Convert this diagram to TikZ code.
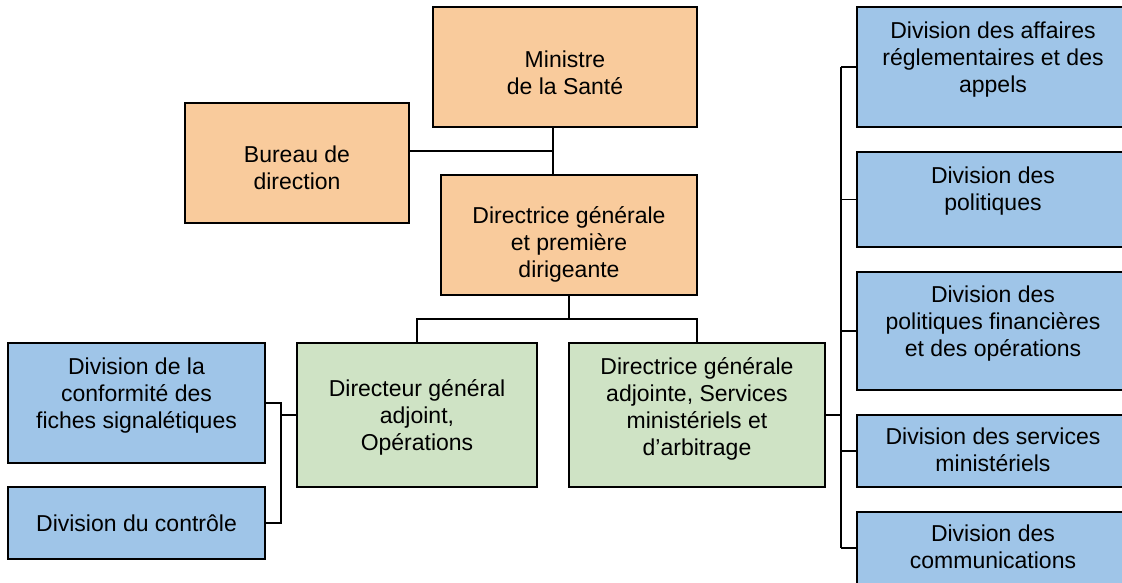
\documentclass[tikz,border=0pt]{standalone}
\usepackage{fontspec}
\setmainfont{Liberation Sans}
\definecolor{orangefill}{HTML}{F9CB9C}
\definecolor{bluefill}{HTML}{9FC5E8}
\definecolor{greenfill}{HTML}{CFE3C5}
\begin{document}
\begin{tikzpicture}[x=1pt,y=-1pt,
  box/.style={draw=black, line width=2pt, inner sep=0pt, outer sep=0pt},
  obox/.style={box, fill=orangefill},
  bbox/.style={box, fill=bluefill},
  gbox/.style={box, fill=greenfill},
  txt/.style={align=center, inner sep=0pt, font=\fontsize{23}{27}\selectfont},
  link/.style={line width=1.5pt}]
\useasboundingbox (0,0) rectangle (1122,582);
% boxes
\node[obox, minimum width=264pt, minimum height=120pt] (min) at (565,67) {};
\node[obox, minimum width=224pt, minimum height=120pt] (bur) at (297,163) {};
\node[obox, minimum width=256pt, minimum height=120pt] (dg) at (569,235) {};
\node[bbox, minimum width=257pt, minimum height=120pt] (b1) at (136.5,403) {};
\node[bbox, minimum width=257pt, minimum height=72pt] (b2) at (136.5,523) {};
\node[gbox, minimum width=240pt, minimum height=144pt] (g1) at (417,415) {};
\node[gbox, minimum width=256pt, minimum height=144pt] (g2) at (697,415) {};
\node[bbox, minimum width=272pt, minimum height=120pt] (r1) at (993,67) {};
\node[bbox, minimum width=272pt, minimum height=95pt] (r2) at (993,199.5) {};
\node[bbox, minimum width=272pt, minimum height=118pt] (r3) at (993,331) {};
\node[bbox, minimum width=272pt, minimum height=72pt] (r4) at (993,451) {};
\node[bbox, minimum width=272pt, minimum height=72pt] (r5) at (993,548) {};
% texts
\node[txt] (tmin) at (565,73) {Ministre\\de la Santé};
\node[txt] (tbur) at (297,168) {Bureau de\\direction};
\node[txt] (tdg) at (569,244) {Directrice générale\\et première\\dirigeante};
\node[txt] (tb1) at (136.5,396) {Division de la\\conformité des\\fiches signalétiques};
\node[txt] (tb2) at (136.5,523) {Division du contrôle};
\node[txt] (tg1) at (417,417) {Directeur général\\adjoint,\\Opérations};
\node[txt] (tg2) at (697,409) {Directrice générale\\adjointe, Services\\ministériels et\\d’arbitrage};
\node[txt] (tr1) at (993,60) {Division des affaires\\réglementaires et des\\appels};
\node[txt] (tr2) at (993,191) {Division des\\politiques};
\node[txt] (tr3) at (993,324) {Division des\\politiques financières\\et des opérations};
\node[txt] (tr4) at (993,450) {Division des services\\ministériels};
\node[txt] (tr5) at (993,547) {Division des\\communications};
% connectors
\coordinate (jm) at (553,151);
\coordinate (bus) at (0,319);
\coordinate (lt) at (281,0);
\coordinate (rt) at (841,0);
\draw[link] (min.south -| jm) -- (dg.north -| jm);
\draw[link] (bur.east |- jm) -- (jm);
\draw[link] (dg.south) -- (dg.south |- bus);
\draw[link] (g1.north) -- (g1.north |- bus) -- (g2.north |- bus) -- (g2.north);
\draw[link] (g1.west) -- (g1.west -| lt);
\draw[link] (b1.east) -- (b1.east -| lt) -- (b2.east -| lt) -- (b2.east);
\draw[link] (g2.east) -- (g2.east -| rt);
\draw[link] (r1.west -| rt) -- (r5.west -| rt);
\foreach \r in {r1,r2,r3,r4,r5} {\draw[link] (\r.west) -- (\r.west -| rt);}
\end{tikzpicture}
\end{document}
